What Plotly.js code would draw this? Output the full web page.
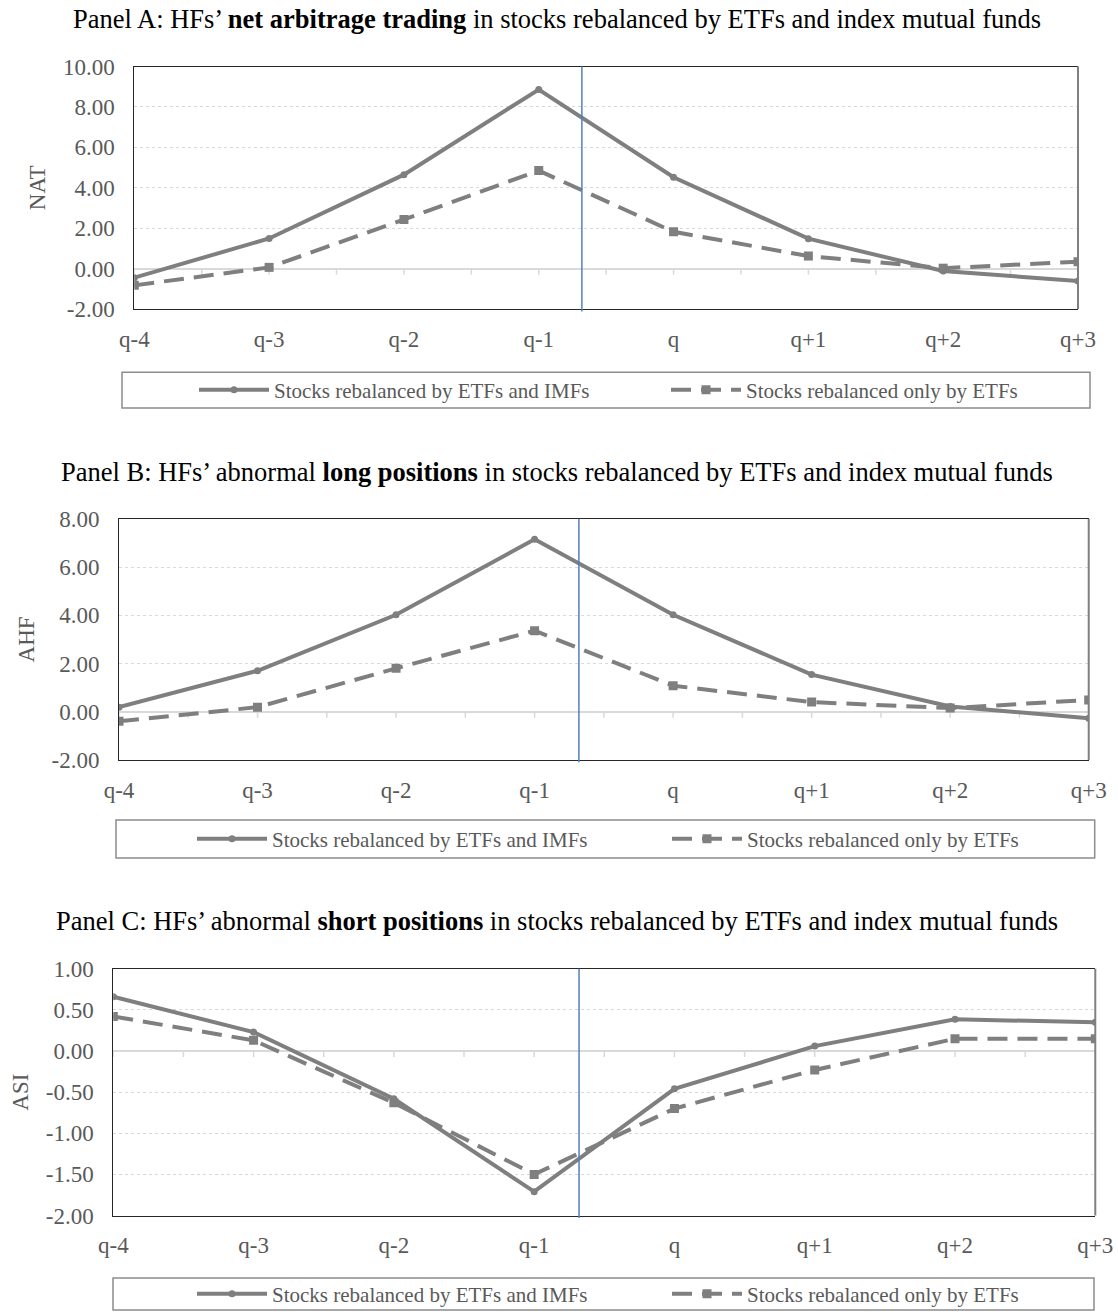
<!DOCTYPE html>
<html>
<head>
<meta charset="utf-8">
<script src="https://cdn.plot.ly/plotly-3.0.1.min.js"></script>
<style>html,body{margin:0;padding:0;background:#fff}</style>
</head>
<body>
<div id="chart" style="width:1118px;height:1315px"></div>
<script>
// ---- data ----
const categories = ['q-4', 'q-3', 'q-2', 'q-1', 'q', 'q+1', 'q+2', 'q+3'];
const seriesNames = ['Stocks rebalanced by ETFs and IMFs', 'Stocks rebalanced only by ETFs'];
const panelTitles = [
  'Panel A: HFs’ <b>net arbitrage trading</b> in stocks rebalanced by ETFs and index mutual funds',
  'Panel B: HFs’ abnormal <b>long positions</b> in stocks rebalanced by ETFs and index mutual funds',
  'Panel C: HFs’ abnormal <b>short positions</b> in stocks rebalanced by ETFs and index mutual funds'
];
const axisTitles = ['NAT', 'AHF', 'ASI'];
const natBoth = [-0.45, 1.49, 4.65, 8.86, 4.52, 1.48, -0.12, -0.62];
const natEtf  = [-0.83, 0.06, 2.43, 4.85, 1.82, 0.62, 0.02, 0.34];
const ahfBoth = [0.19, 1.70, 4.02, 7.15, 4.02, 1.54, 0.22, -0.27];
const ahfEtf  = [-0.40, 0.19, 1.80, 3.36, 1.08, 0.40, 0.15, 0.49];
const asiBoth = [0.66, 0.23, -0.58, -1.71, -0.46, 0.06, 0.385, 0.35];
const asiEtf  = [0.42, 0.13, -0.63, -1.50, -0.70, -0.23, 0.15, 0.15];
const natTicks = [-2, 0, 2, 4, 6, 8, 10];
const ahfTicks = [-2, 0, 2, 4, 6, 8];
const asiTicks = [-2, -1.5, -1, -0.5, 0, 0.5, 1];
const eventPosition = 3.32; // vertical marker between q-1 and q

// ---- layout helpers ----
const W = 1118, H = 1315;
const px = v => v / W;
const py = v => 1 - v / H;
const FONT = '"Liberation Serif", "Times New Roman", serif';
const GREY = '#7f7f7f';
const TXT = '#595959';

const panels = [
  {both: natBoth, etf: natEtf, ticks: natTicks, box: [134.3, 1078, 66.7, 309.7], title: 19,
   legendY: 391, legendX: [194, 666], legendBox: [122, 1090, 373, 409]},
  {both: ahfBoth, etf: ahfEtf, ticks: ahfTicks, box: [119, 1088.7, 520, 761.7], title: 473,
   legendY: 841, legendX: [192, 667], legendBox: [116, 1094.7, 822, 860]},
  {both: asiBoth, etf: asiEtf, ticks: asiTicks, box: [113.3, 1095.3, 971, 1218.3], title: 923,
   legendY: 1297, legendX: [192, 667], legendBox: [113, 1094, 1281, 1313]}
];

const data = [];
const layout = {
  width: W, height: H,
  margin: {l: 0, r: 0, t: 0, b: 0},
  paper_bgcolor: '#fff', plot_bgcolor: '#fff',
  font: {family: FONT, color: TXT},
  showlegend: true,
  annotations: [], shapes: []
};

const legendName = k => (k === 0 ? 'legend' : 'legend' + (k + 1));

panels.forEach((p, i) => {
  const n = i === 0 ? '' : String(i + 1);
  const xa = 'x' + n, ya = 'y' + n;
  const lg1 = legendName(2 * i), lg2 = legendName(2 * i + 1);
  data.push({
    x: categories, y: p.both, name: seriesNames[0], type: 'scatter', mode: 'lines+markers',
    xaxis: xa, yaxis: ya, legend: lg1,
    line: {color: GREY, width: 4},
    marker: {symbol: 'circle', size: 7, color: GREY}
  });
  data.push({
    x: categories, y: p.etf, name: seriesNames[1], type: 'scatter', mode: 'lines+markers',
    xaxis: xa, yaxis: ya, legend: lg2,
    line: {color: GREY, width: 4, dash: '20px,10px'},
    marker: {symbol: 'square', size: 9, color: GREY}
  });
  const [l, r, t, b] = p.box;
  layout['xaxis' + n] = {
    type: 'category', categoryarray: categories, categoryorder: 'array',
    range: [0, categories.length - 1], domain: [px(l), px(r)], anchor: ya,
    showline: true, mirror: true, linecolor: '#262626', linewidth: 1,
    showgrid: false, zeroline: false, ticks: '',
    tickfont: {family: FONT, size: 23, color: TXT}, ticklabelstandoff: 9,
    fixedrange: true
  };
  const tmin = p.ticks[0], tmax = p.ticks[p.ticks.length - 1];
  layout['yaxis' + n] = {
    range: [tmin, tmax], domain: [py(b), py(t)], anchor: xa,
    tickvals: p.ticks, ticktext: p.ticks.map(v => v.toFixed(2)),
    showline: true, linecolor: '#262626', linewidth: 1,
    showgrid: true, gridcolor: '#d9d9d9', griddash: 'dot', gridwidth: 1,
    zeroline: true, zerolinecolor: '#d9d9d9', zerolinewidth: 2,
    ticks: '', ticklabelstandoff: 14,
    tickfont: {family: FONT, size: 23, color: TXT},
    title: {text: axisTitles[i], font: {family: FONT, size: 23, color: TXT}, standoff: 10},
    fixedrange: true
  };
  [lg1, lg2].forEach((lg, k) => {
    layout[lg] = {
      orientation: 'h', x: px(p.legendX[k]), y: py(p.legendY), xanchor: 'left', yanchor: 'middle',
      font: {family: FONT, size: 21, color: TXT}, bgcolor: 'rgba(0,0,0,0)',
      borderwidth: 0, itemwidth: 70,
      itemclick: false, itemdoubleclick: false
    };
  });
  // panel title
  layout.annotations.push({
    xref: 'paper', yref: 'paper', x: px(557), y: py(p.title), xanchor: 'center', yanchor: 'middle',
    text: panelTitles[i], showarrow: false, font: {family: FONT, size: 26.5, color: '#000'}
  });
  // right border (grey)
  layout.shapes.push({
    type: 'line', xref: xa + ' domain', yref: ya + ' domain', x0: 1, x1: 1, y0: 0, y1: 1,
    line: {color: GREY, width: 2}, layer: 'above'
  });
  // category tick marks on the zero line (every half category)
  for (let k = 0; k <= (categories.length - 1) * 2; k++) {
    layout.shapes.push({
      type: 'line', xref: xa, yref: ya, x0: k / 2, x1: k / 2,
      ysizemode: 'pixel', yanchor: 0, y0: 0, y1: -6,
      line: {color: '#d9d9d9', width: 1.5}, layer: 'below'
    });
  }
  // event marker line
  layout.shapes.push({
    type: 'line', xref: xa, yref: ya + ' domain', x0: eventPosition, x1: eventPosition, y0: -0.01, y1: 1,
    line: {color: '#4f81bd', width: 1.5}, layer: 'above'
  });
  // legend box
  const [bl, br, bt, bb] = p.legendBox;
  layout.shapes.push({
    type: 'rect', xref: 'paper', yref: 'paper', x0: px(bl), x1: px(br), y0: py(bb), y1: py(bt),
    line: {color: '#8c8c8c', width: 1.5}, fillcolor: 'rgba(0,0,0,0)'
  });
});

Plotly.newPlot('chart', data, layout, {displayModeBar: false, staticPlot: true});
</script>
</body>
</html>
